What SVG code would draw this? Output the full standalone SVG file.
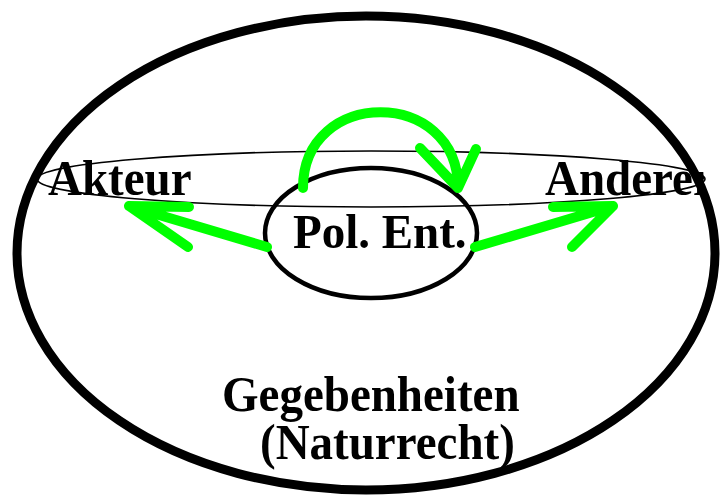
<svg xmlns="http://www.w3.org/2000/svg" width="721" height="497" viewBox="0 0 721 497">
<style>
.lbl{font-family:"Liberation Serif","Times New Roman",serif;font-weight:bold;font-size:47px;fill:#000}
.arr{fill:none;stroke:#00ff00;stroke-width:10;stroke-linecap:round;stroke-linejoin:round}
</style>
<defs>
<clipPath id="clipR"><rect x="-10" y="-100" width="169" height="200"/></clipPath>
</defs>
<rect width="721" height="497" fill="#fff"/>
<g id="outer">
<ellipse cx="366" cy="253" rx="349" ry="237" fill="none" stroke="#000" stroke-width="9"/>
<text class="lbl" transform="translate(222,411) scale(1,1.07)">Gegebenheiten</text>
<text class="lbl" transform="translate(260,459) scale(1,1.07)">(Naturrecht)</text>
</g>
<g id="plane">
<ellipse cx="371" cy="179" rx="334" ry="28" fill="none" stroke="#000" stroke-width="1.6"/>
</g>
<g id="akteur">
<text class="lbl" transform="translate(48,195) scale(1,1.07)">Akteur</text>
</g>
<g id="anderer">
<text class="lbl" transform="translate(545,195) scale(1,1.07)" clip-path="url(#clipR)">Anderer</text>
</g>
<g id="polent">
<ellipse cx="371" cy="233" rx="106" ry="65" fill="none" stroke="#000" stroke-width="4.5"/>
<text class="lbl" transform="translate(293,248) scale(1,1.05)">Pol. Ent.</text>
</g>
<g id="connectors">
<path class="arr" d="M267,247 L129,206 M189,207 L129,206 L188,247"/>
<path class="arr" d="M475,247 L613,206 M553,207 L613,206 L572,247"/>
<path class="arr" d="M303,188 C303,87 458,87 458,188 M420,148 L458,188 L476,149"/>
</g>
</svg>
